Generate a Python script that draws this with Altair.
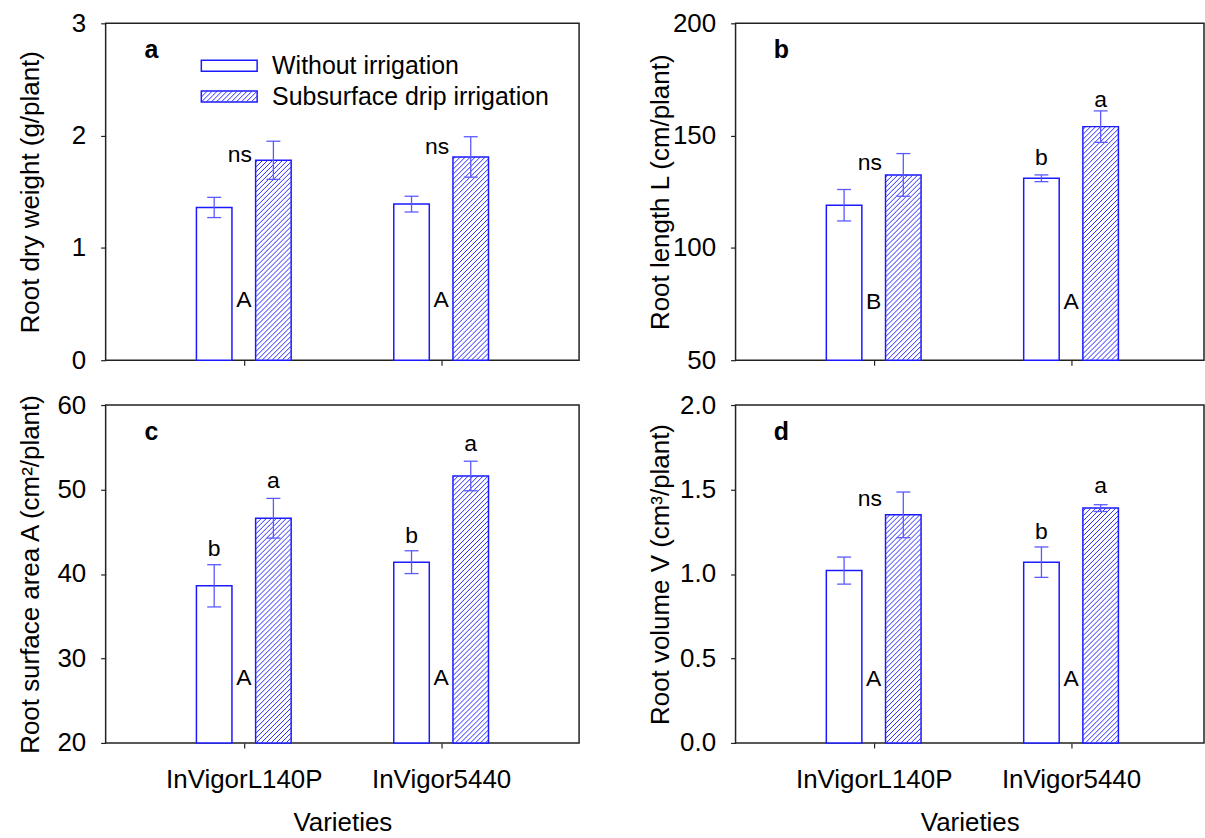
import altair as alt
import numpy as np
import pandas as pd

# ---------------- data ----------------
varieties = ["InVigorL140P", "InVigor5440"]
treatments = ["Without irrigation", "Subsurface drip irrigation"]

# (a) root dry weight, g/plant
dw_without = [1.36, 1.39]
dw_without_se = [0.09, 0.07]
dw_drip = [1.78, 1.81]
dw_drip_se = [0.17, 0.18]

# (b) root length, cm/plant
rl_without = [119.0, 131.0]
rl_without_se = [7.0, 1.5]
rl_drip = [132.5, 154.0]
rl_drip_se = [9.5, 7.0]

# (c) root surface area, cm2/plant
sa_without = [38.6, 41.4]
sa_without_se = [2.5, 1.35]
sa_drip = [46.6, 51.6]
sa_drip_se = [2.35, 1.75]

# (d) root volume, cm3/plant
rv_without = [1.02, 1.07]
rv_without_se = [0.08, 0.09]
rv_drip = [1.35, 1.39]
rv_drip_se = [0.135, 0.02]

# significance letters: text, variety index, which bar, height (data units)
a_text = ["ns", "A", "ns", "A"]
a_var = [0, 0, 1, 1]
a_kind = ["ns", "gap", "ns", "gap"]
a_y = [1.83, 0.54, 1.90, 0.54]

b_text = ["ns", "B", "b", "a", "A"]
b_var = [0, 0, 1, 1, 1]
b_kind = ["ns", "gap", "without", "drip", "gap"]
b_y = [138.0, 76.0, 140.0, 166.0, 76.0]

c_text = ["b", "a", "A", "b", "a", "A"]
c_var = [0, 0, 0, 1, 1, 1]
c_kind = ["without", "drip", "gap", "without", "drip", "gap"]
c_y = [43.0, 51.0, 27.7, 44.5, 55.4, 27.7]

d_text = ["ns", "A", "b", "a", "A"]
d_var = [0, 0, 1, 1, 1]
d_kind = ["ns", "gap", "without", "drip", "gap"]
d_y = [1.445, 0.38, 1.25, 1.52, 0.38]

# ---------------- styling / geometry ----------------
FONT = "Liberation Sans"
BLUE = "#1a1aff"
HATCH = "#2a2aff"
ERRC = "#5a5aff"
STEP = 198.0          # pixels per category unit
XMIN = 0.3
OFF = 0.15            # bar centre offset from category
HALF = 0.09           # bar half width
CAP = 7.0 / STEP      # error cap half width
KIND_OFF = {"ns": -0.02, "gap": 0.0, "without": -OFF, "drip": OFF}


def hatch_px(X0, X1, Yt, Yb, spacing=5.0):
    segs = []
    k0 = int(np.ceil((X0 + Yt) / spacing))
    k1 = int(np.floor((X1 + Yb) / spacing))
    for k in range(k0, k1 + 1):
        c = k * spacing
        xa = max(X0, c - Yb)
        xb = min(X1, c - Yt)
        if xb - xa > 0.4:
            segs.append((xa, c - xa, xb, c - xb))
    return segs


def panel(letter, ytitle, ymin, ymax, yticks, yfmt, width, height,
          wv, we, dv, de, at, av, ak, ay, bottom, legend=False):
    xmax = XMIN + width / STEP
    xs = alt.Scale(domain=[XMIN, xmax], nice=False, zero=False)
    ys = alt.Scale(domain=[ymin, ymax], nice=False, zero=False)
    if bottom:
        xaxis = alt.Axis(values=[1, 2], labels=True, title="Varieties",
                         labelExpr=f"datum.value == 1 ? '{varieties[0]}' : '{varieties[1]}'",
                         titleY=67, labelPadding=19)
    else:
        xaxis = alt.Axis(values=[1, 2], labels=False, title=None)
    yaxis = alt.Axis(values=yticks, format=yfmt, title=ytitle, titleX=-62,
                     labelPadding=15)

    def X(f):
        return alt.X(f, type="quantitative", scale=xs, axis=xaxis)

    def Y(f):
        return alt.Y(f, type="quantitative", scale=ys, axis=yaxis)

    def to_x(P):
        return XMIN + P / STEP

    def to_y(P):
        return ymax - P / height * (ymax - ymin)

    rows = []
    for i, v in enumerate(varieties):
        for t, vals, errs, sgn in [(treatments[0], wv, we, -1), (treatments[1], dv, de, 1)]:
            c = i + 1 + sgn * OFF
            rows.append(dict(variety=v, treatment=t, c=c, x0=c - HALF, x1=c + HALF,
                             val=vals[i], base=ymin, lo=vals[i] - errs[i],
                             hi=vals[i] + errs[i], cl=c - CAP, cr=c + CAP))
    bars = pd.DataFrame(rows)

    # hatch segments for drip bars
    hrows = []
    for r in rows:
        if r["treatment"] != treatments[1]:
            continue
        X0 = (r["x0"] - XMIN) * STEP
        X1 = (r["x1"] - XMIN) * STEP
        Yt = (ymax - r["val"]) / (ymax - ymin) * height
        for (xa, ya, xb, yb) in hatch_px(X0, X1, Yt, height):
            hrows.append(dict(hx0=to_x(xa), hy0=to_y(ya), hx1=to_x(xb), hy1=to_y(yb)))

    layers = []
    layers.append(alt.Chart(bars).mark_rect(fill="white", stroke=BLUE, strokeWidth=1.5).encode(
        x=X("x0"), x2=alt.X2("x1"), y=Y("val"), y2=alt.Y2("base")))
    layers.append(alt.Chart(pd.DataFrame(hrows)).mark_rule(color=HATCH, strokeWidth=1).encode(
        x=X("hx0"), x2=alt.X2("hx1"), y=Y("hy0"), y2=alt.Y2("hy1")))
    layers.append(alt.Chart(bars).mark_rule(color=ERRC, strokeWidth=1.3).encode(
        x=X("c"), y=Y("lo"), y2=alt.Y2("hi")))
    layers.append(alt.Chart(bars).mark_rule(color=ERRC, strokeWidth=1.3).encode(
        x=X("cl"), x2=alt.X2("cr"), y=Y("hi")))
    layers.append(alt.Chart(bars).mark_rule(color=ERRC, strokeWidth=1.3).encode(
        x=X("cl"), x2=alt.X2("cr"), y=Y("lo")))

    ann = pd.DataFrame({
        "text": at,
        "ax": [i + 1 + KIND_OFF[k] for i, k in zip(av, ak)],
        "ay": ay,
    })
    layers.append(alt.Chart(ann).mark_text(font=FONT, fontSize=23, color="black").encode(
        x=X("ax"), y=Y("ay"), text="text:N"))

    layers.append(alt.Chart(pd.DataFrame({"t": [letter]})).mark_text(
        font=FONT, fontSize=25, fontWeight="bold", color="black").encode(
        x=alt.value(46), y=alt.value(27), text="t:N"))

    if legend:
        sw = [(96, 152, 37, 48), (96, 152, 68, 79)]
        layers.append(alt.Chart(pd.DataFrame({"t": [treatments[0]]})).mark_rect(
            fill="white", stroke=BLUE, strokeWidth=1.5).encode(
            x=alt.value(sw[0][0]), x2=alt.value(sw[0][1]),
            y=alt.value(sw[0][2]), y2=alt.value(sw[0][3])))
        layers.append(alt.Chart(pd.DataFrame({"t": [treatments[1]]})).mark_rect(
            fill="white", stroke=BLUE, strokeWidth=1.5).encode(
            x=alt.value(sw[1][0]), x2=alt.value(sw[1][1]),
            y=alt.value(sw[1][2]), y2=alt.value(sw[1][3])))
        lrows = [dict(hx0=to_x(xa), hy0=to_y(ya), hx1=to_x(xb), hy1=to_y(yb))
                 for (xa, ya, xb, yb) in hatch_px(sw[1][0], sw[1][1], sw[1][2], sw[1][3])]
        layers.append(alt.Chart(pd.DataFrame(lrows)).mark_rule(color=HATCH, strokeWidth=1).encode(
            x=X("hx0"), x2=alt.X2("hx1"), y=Y("hy0"), y2=alt.Y2("hy1")))
        layers.append(alt.Chart(pd.DataFrame({"t": [treatments[0]]})).mark_text(
            font=FONT, fontSize=25, align="left", baseline="middle", color="black").encode(
            x=alt.value(167), y=alt.value(43), text="t:N"))
        layers.append(alt.Chart(pd.DataFrame({"t": [treatments[1]]})).mark_text(
            font=FONT, fontSize=25, align="left", baseline="middle", color="black").encode(
            x=alt.value(167), y=alt.value(74), text="t:N"))

    return alt.layer(*layers).properties(width=width, height=height)


pa = panel("a", "Root dry weight (g/plant)", 0, 3, [0, 1, 2, 3], "d", 475, 338,
           dw_without, dw_without_se, dw_drip, dw_drip_se,
           a_text, a_var, a_kind, a_y, bottom=False, legend=True)
pb = panel("b", "Root length L (cm/plant)", 50, 200, [50, 100, 150, 200], "d", 470, 338,
           rl_without, rl_without_se, rl_drip, rl_drip_se,
           b_text, b_var, b_kind, b_y, bottom=False)
pc = panel("c", "Root surface area A (cm²/plant)", 20, 60, [20, 30, 40, 50, 60], "d", 475, 339,
           sa_without, sa_without_se, sa_drip, sa_drip_se,
           c_text, c_var, c_kind, c_y, bottom=True)
pd_ = panel("d", "Root volume V (cm³/plant)", 0, 2, [0, 0.5, 1.0, 1.5, 2.0], ".1f", 470, 339,
            rv_without, rv_without_se, rv_drip, rv_drip_se,
            d_text, d_var, d_kind, d_y, bottom=True)

chart = alt.concat(pa, pb, pc, pd_, columns=2, spacing={"row": 17, "column": 67}).properties(
    padding={"left": 17, "top": 8, "right": 0, "bottom": 0}
).configure_view(stroke="#222222", strokeWidth=1.5).configure_axis(
    domain=False, grid=False, tickColor="#222222", tickSize=5, tickWidth=1.2,
    labelFont=FONT, titleFont=FONT, labelFontSize=26, titleFontSize=26,
    labelColor="black", titleColor="black", titleFontWeight="normal"
)

chart.save("out.html", embed_options={"renderer": "svg", "actions": False})
